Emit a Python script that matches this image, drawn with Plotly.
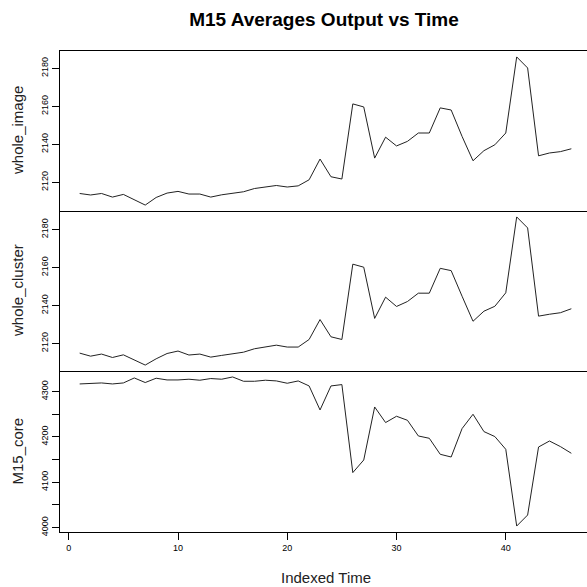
import plotly.graph_objects as go
from plotly.subplots import make_subplots

# ---- data ----
time_index = list(range(1, 47))

whole_image = [2114.2, 2113.4, 2114.2, 2112.3, 2113.7, 2110.9, 2108.1, 2112.1, 2114.4, 2115.3,
               2113.9, 2113.9, 2112.3, 2113.5, 2114.4, 2115.1, 2116.8, 2117.6, 2118.4, 2117.6,
               2118.2, 2121.4, 2132.3, 2123.0, 2121.8, 2161.3, 2159.7, 2132.8, 2143.8, 2139.2,
               2141.6, 2146.0, 2146.0, 2159.2, 2158.1, 2144.2, 2131.4, 2136.7, 2139.8, 2146.0,
               2186.0, 2180.2, 2134.0, 2135.5, 2136.2, 2137.7]

whole_cluster = [2114.9, 2113.3, 2114.4, 2112.6, 2114.0, 2111.2, 2108.6, 2111.9, 2114.7, 2116.0,
                 2113.9, 2114.4, 2112.8, 2113.7, 2114.6, 2115.4, 2117.2, 2118.3, 2119.1, 2118.1,
                 2118.1, 2122.1, 2132.6, 2123.5, 2122.1, 2161.8, 2160.2, 2133.2, 2144.4, 2139.5,
                 2142.1, 2146.5, 2146.5, 2159.6, 2158.4, 2144.9, 2131.7, 2137.0, 2139.6, 2146.7,
                 2186.7, 2180.9, 2134.4, 2135.4, 2136.2, 2138.3]

m15_core = [4316.8, 4317.5, 4319.0, 4316.8, 4319.0, 4330.0, 4319.9, 4329.4, 4325.6, 4325.6,
            4327.2, 4325.0, 4328.7, 4327.2, 4332.2, 4322.7, 4322.7, 4325.0, 4323.5, 4318.3,
            4323.4, 4312.4, 4259.4, 4312.4, 4315.4, 4121.2, 4149.0, 4266.0, 4231.6, 4245.5,
            4236.6, 4202.0, 4196.9, 4161.6, 4155.6, 4218.3, 4249.9, 4211.7, 4200.7, 4172.6,
            4003.3, 4027.6, 4177.7, 4190.9, 4178.6, 4163.8]

series_names = ["whole_image", "whole_cluster", "M15_core"]
x_ticks = [0, 10, 20, 30, 40]
top_ticks = [2120, 2140, 2160, 2180]
core_ticks = [4000, 4050, 4100, 4150, 4200, 4250, 4300]
core_tick_text = ["4000", "", "4100", "", "4200", "", "4300"]

title_text = "M15 Averages Output vs Time"
x_title = "Indexed Time"

# ---- figure ----
FONT = "Liberation Sans, Arial, sans-serif"
W, H = 587, 587
ML, MR, MT, MB = 60, 0, 51, 55
plot_w = W - ML - MR
plot_h = H - MT - MB


def padded(vals):
    lo, hi = min(vals), max(vals)
    d = (hi - lo) * 0.04
    return [lo - d, hi + d]


x_lo = min(time_index) - 0.04 * (max(time_index) - min(time_index))
x_hi_full = max(time_index) + 0.04 * (max(time_index) - min(time_index))
# R plot region would extend to ~591px; window clips at 587
x_hi = x_lo + (x_hi_full - x_lo) * plot_w / 531.0

fig = make_subplots(rows=3, cols=1, shared_xaxes=True, vertical_spacing=0)

all_series = [whole_image, whole_cluster, m15_core]
for i, s in enumerate(all_series):
    fig.add_trace(go.Scatter(x=time_index, y=s, mode="lines",
                             line=dict(color="#222222", width=1),
                             showlegend=False, hoverinfo="skip"),
                  row=i + 1, col=1)

# panel domains (pixels from top: 51-211, 211-371, 371-532)
b1 = 161.0 / plot_h
b2 = 321.0 / plot_h
domains = [[b2, 1.0], [b1, b2], [0.0, b1]]

for i in range(3):
    xa = "xaxis" if i == 0 else f"xaxis{i + 1}"
    ya = "yaxis" if i == 0 else f"yaxis{i + 1}"
    is_bottom = (i == 2)
    fig.layout[xa].update(
        range=[x_lo, x_hi], showgrid=False, zeroline=False,
        showline=True, linecolor="black", linewidth=1, mirror=(i == 0),
        ticks="outside" if is_bottom else "", ticklen=7, tickcolor="black",
        tickvals=x_ticks, showticklabels=is_bottom,
        tickfont=dict(family=FONT, size=9, color="black"),
    )
    if i < 2:
        yt = dict(tickvals=top_ticks, ticktext=[str(v) for v in top_ticks])
    else:
        yt = dict(tickvals=core_ticks, ticktext=core_tick_text)
    fig.layout[ya].update(
        domain=domains[i], range=padded(all_series[i]),
        showgrid=False, zeroline=False,
        showline=True, linecolor="black", linewidth=1, mirror=False,
        ticks="outside", ticklen=7, tickcolor="black", tickangle=-90,
        tickfont=dict(family=FONT, size=9, color="black"),
        **yt,
    )

annotations = []
for i, name in enumerate(series_names):
    d = domains[i]
    annotations.append(dict(
        text=name, textangle=-90, showarrow=False,
        xref="paper", yref="paper",
        x=(17 - ML) / plot_w, y=(d[0] + d[1]) / 2,
        xanchor="center", yanchor="middle",
        font=dict(family=FONT, size=15, color="#222222"),
    ))
annotations.append(dict(
    text=x_title, showarrow=False, xref="paper", yref="paper",
    x=(325.5 - ML) / plot_w, y=(H - MB - 577) / plot_h,
    xanchor="center", yanchor="middle",
    font=dict(family=FONT, size=15, color="#222222"),
))

fig.update_layout(
    width=W, height=H,
    margin=dict(l=ML, r=MR, t=MT, b=MB, autoexpand=False),
    paper_bgcolor="white", plot_bgcolor="white",
    title=dict(text=f"<b>{title_text}</b>", x=(324 - ML) / plot_w, xref="paper",
               xanchor="center", y=1 - 19.5 / H, yref="container", yanchor="middle",
               font=dict(family=FONT, size=19, color="black")),
    annotations=annotations,
)

fig.write_html("out.html", config={"displayModeBar": False})
